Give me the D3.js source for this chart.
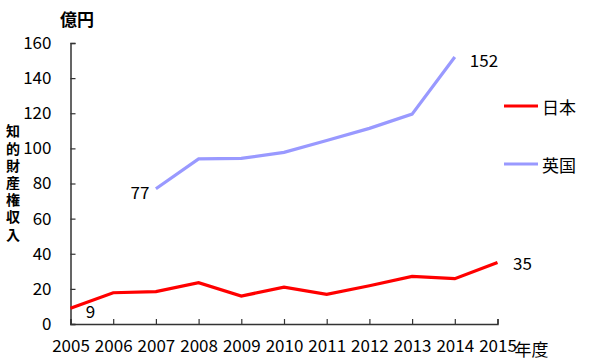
<!DOCTYPE html>
<html><head><meta charset="utf-8">
<script src="https://cdn.jsdelivr.net/npm/d3@7"></script>
<style>body{margin:0;background:#fff}svg{display:block}text{font-family:"Noto Sans CJK JP","Noto Sans",sans-serif;fill:#000}</style>
</head><body><svg id="c" width="600" height="360"></svg>
<script>
const years = [2005,2006,2007,2008,2009,2010,2011,2012,2013,2014,2015];
const japan = [9,17.8,18.4,23.5,15.9,21,16.9,21.8,27.1,25.8,35];
const uk = [null,null,77,94,94.3,97.7,104.5,111.4,119.5,152,null];
const yTicks = [0,20,40,60,80,100,120,140,160];
const seriesNames = ["日本","英国"];
const colors = ["#ff0000","#9999ff"];

const svg = d3.select("#c");
const x = d3.scaleLinear().domain([2005,2015]).range([70.5,497.5]);
const y = d3.scaleLinear().domain([0,160]).range([324,43]);

const gx = svg.append("g").attr("transform","translate(0,324)")
  .call(d3.axisBottom(x).tickValues(years).tickFormat(d=>d).tickSizeInner(-5).tickSizeOuter(-5).tickPadding(13));
const gy = svg.append("g").attr("transform","translate(70.5,0)")
  .call(d3.axisLeft(y).tickValues(yTicks).tickSizeInner(-5).tickSizeOuter(-5).tickPadding(19));
[gx,gy].forEach(g=>{
  g.select(".domain").attr("stroke","#333").attr("stroke-width",1.5);
  g.selectAll(".tick line").attr("stroke","#333").attr("stroke-width",1.2);
  g.selectAll(".tick text").style("font-size","17px").attr("fill","#000");
});
gx.selectAll(".tick text").attr("dy","0.9em");

const line = d3.line().defined(d=>d[1]!=null).x(d=>x(d[0])).y(d=>y(d[1]));
[japan,uk].forEach((s,i)=>{
  svg.append("path").datum(years.map((yr,j)=>[yr,s[j]]))
    .attr("d",line).attr("fill","none").attr("stroke",colors[i]).attr("stroke-width",3.2);
});

// value labels
const lab = (t,xx,yy,anchor)=>svg.append("text").text(t).attr("x",xx).attr("y",yy)
  .attr("text-anchor",anchor).attr("dominant-baseline","central").style("font-size","17px");
lab(japan[0], x(2005)+20, y(japan[0])+2, "middle");
lab(japan[10], x(2015)+25, y(japan[10]), "middle");
lab(uk[2], x(2007)-16, y(uk[2])+3, "middle");
lab(uk[9], x(2014)+15, y(uk[9])+2, "start");

// legend
seriesNames.forEach((n,i)=>{
  const ly = [106,164][i];
  svg.append("line").attr("x1",504).attr("x2",538).attr("y1",ly).attr("y2",ly)
    .attr("stroke",colors[i]).attr("stroke-width",3.2);
  svg.append("text").text(n).attr("x",542).attr("y",ly).attr("dominant-baseline","central")
    .style("font-size","17px");
});

// unit labels
svg.append("text").text("億円").attr("x",60).attr("y",18).attr("dominant-baseline","central")
  .style("font-size","17px").style("font-weight","bold");
svg.append("text").text("年度").attr("x",x(2015)+17).attr("y",348).attr("dominant-baseline","central")
  .style("font-size","17px");
svg.append("text").text("知的財産権収入").attr("x",13).attr("y",124)
  .style("writing-mode","vertical-rl").style("letter-spacing","3.2px")
  .style("font-size","14px").style("font-weight","bold");
</script></body></html>
